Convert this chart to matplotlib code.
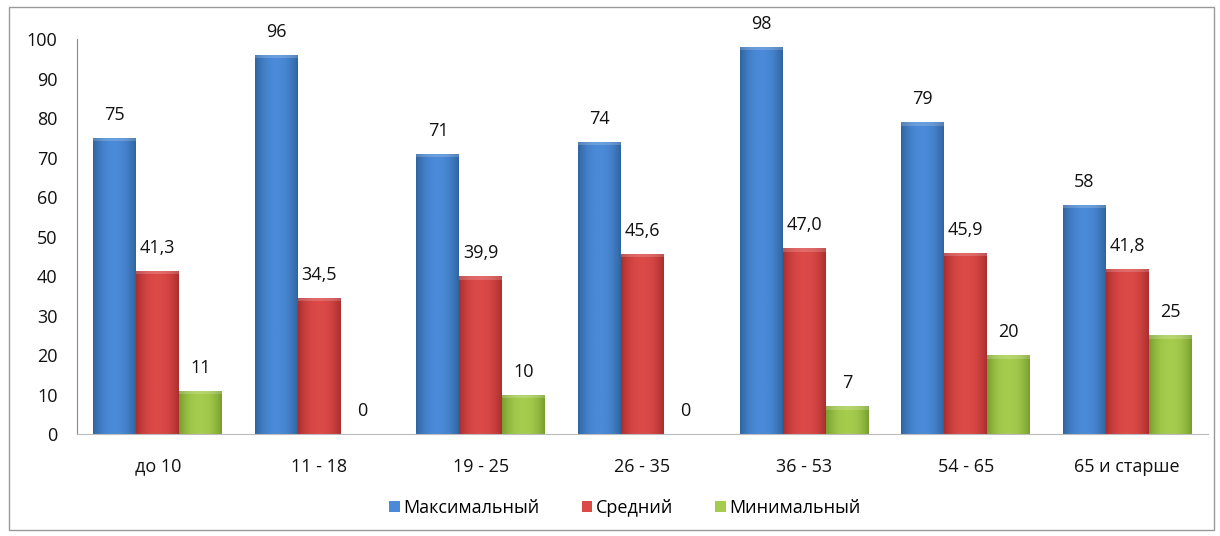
import numpy as np
import matplotlib
matplotlib.use('Agg')
import matplotlib.pyplot as plt
from matplotlib.colors import LinearSegmentedColormap
from matplotlib.patches import Rectangle

# данные
categories = ['до 10', '11 - 18', '19 - 25', '26 - 35', '36 - 53', '54 - 65', '65 и старше']
maximum = [75, 96, 71, 74, 98, 79, 58]
average = [41.3, 34.5, 39.9, 45.6, 47.0, 45.9, 41.8]
minimum = [11, 0, 10, 0, 7, 20, 25]
series_names = ['Максимальный', 'Средний', 'Минимальный']

plt.rcParams['font.family'] = ['Open Sans', 'DejaVu Sans']
fs = 13

# цвета: край, центр
colors = [('#30649f', '#4a8ad8'), ('#aa2e2e', '#dc4a48'), ('#789f2e', '#a6cc4e')]

fig = plt.figure(figsize=(12.2, 5.36), dpi=100)
ax = fig.add_axes([0.0631, 0.1903, 0.9271, 0.7369])

x = np.arange(len(categories))
w = 0.266
grad = np.linspace(-1, 1, 64)
grad = 1 - np.abs(grad) ** 2.2
grad = grad.reshape(1, -1)

for i, (vals, name, (c_edge, c_mid)) in enumerate(zip([maximum, average, minimum], series_names, colors)):
    cmap = LinearSegmentedColormap.from_list('g%d' % i, [c_edge, c_mid])
    bars = ax.bar(x + (i - 1) * w, vals, w, color=c_mid, edgecolor='none', label=name)
    for b, v in zip(bars, vals):
        if v > 0:
            im = ax.imshow(grad, cmap=cmap, aspect='auto', extent=(b.get_x(), b.get_x() + w, 0, v),
                           zorder=2, vmin=0, vmax=1)
            im.set_clip_path(b)
            # светлая верхушка
            ax.add_patch(Rectangle((b.get_x(), v - 0.9), w, 0.9, facecolor='white', alpha=0.18,
                                   edgecolor='none', zorder=3))
        if i == 1:
            txt = ('%.1f' % v).replace('.', ',')
        else:
            txt = '%d' % v
        ax.text(b.get_x() + w / 2, v + 5.8, txt, ha='center', va='center', fontsize=fs, color='#111111')

ax.set_xlim(-0.5, len(categories) - 0.5)
ax.set_ylim(0, 100)
ax.set_yticks(np.arange(0, 101, 10))
ax.set_xticks(x)
ax.set_xticklabels(categories)
ax.tick_params(axis='both', length=0, labelsize=fs, colors='#111111')
ax.tick_params(axis='y', pad=14)
ax.tick_params(axis='x', pad=17)
for s in ['top', 'right']:
    ax.spines[s].set_visible(False)
ax.spines['left'].set_color('#888888')
ax.spines['bottom'].set_color('#bbbbbb')

leg = ax.legend(loc='center', bbox_to_anchor=(0.4845, -0.187), ncol=3, frameon=False,
                fontsize=fs, handlelength=0.6, handleheight=0.6, handletextpad=0.2,
                columnspacing=2.3)

fig.patches.append(Rectangle((0.007, 0.012), 0.988, 0.975, transform=fig.transFigure,
                             fill=False, edgecolor='#999999', linewidth=1))

fig.savefig('out.png', dpi=100)
